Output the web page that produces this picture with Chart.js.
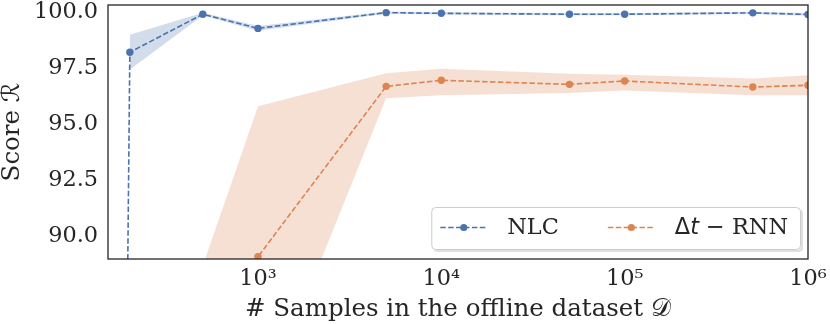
<!DOCTYPE html>
<html><head><meta charset="utf-8">
<script src="https://cdn.jsdelivr.net/npm/chart.js@4/dist/chart.umd.min.js"></script>
<style>html,body{margin:0;padding:0;background:#fff}#wrap{width:830px;height:324px;position:relative}</style>
</head><body><div id="wrap"><canvas id="c"></canvas></div>
<script>
// ---- data ----
const samples   = [100, 200, 500, 1000, 5000, 10000, 50000, 100000, 500000, 1000000];
const nlcMean   = [-150, 98.20, 99.89, 99.26, 99.96, 99.93, 99.89, 99.89, 99.95, 99.88];
const nlcLow    = [null, 97.43, 99.83, 99.15, 99.91, 99.88, 99.84, 99.84, 99.90, 99.82];
const nlcHigh   = [null, 98.98, 99.95, 99.37, 100.01, 99.98, 99.94, 99.94, 100.00, 99.94];
const rnnMean   = [null, null, 80.0, 89.10, 96.68, 96.95, 96.77, 96.92, 96.65, 96.73];
const rnnLow    = [null, null, 71.4, 82.00, 96.15, 96.28, 96.38, 96.50, 96.28, 96.28];
const rnnHigh   = [null, null, 88.7, 95.80, 97.26, 97.46, 97.24, 97.20, 97.03, 97.17];
const seriesNames = ['NLC', 'Δt − RNN'];
const xTicks = [1e3, 1e4, 1e5, 1e6];
const xTickLabels = ['10³', '10⁴', '10⁵', '10⁶'];
const yTicks = [90.0, 92.5, 95.0, 97.5, 100.0];
const xTitle = '# Samples in the offline dataset 𝒟';
const yTitle = 'Score ℛ';

const BLUE = '#4C72B0', ORANGE = '#DD8452';
const BLUE_BAND = 'rgba(76,114,176,0.25)', ORANGE_BAND = 'rgba(221,132,82,0.25)';
const SERIF = "'DejaVu Serif', 'DejaVu Sans', serif";
const FS = 22.4, FT = 24.5;

const pts = arr => samples.map((x, i) => ({x, y: arr[i]}));

const bandDs = (arr, color, fill) => ({
  data: pts(arr), borderWidth: 0, pointRadius: 0, borderColor: 'transparent',
  backgroundColor: color, fill: fill, spanGaps: false, isBand: true, tension: 0
});
const lineDs = (label, arr, color) => ({
  label, data: pts(arr), borderColor: color, backgroundColor: color,
  borderWidth: 1.6, borderDash: [5.5, 2.4], pointRadius: 3.7, pointHoverRadius: 3.7,
  pointBorderWidth: 0, pointBackgroundColor: color, fill: false, tension: 0, spanGaps: false
});

const spinePlugin = {
  id: 'spines',
  afterDatasetsDraw(chart) {
    const {ctx, chartArea: a} = chart;
    ctx.save();
    ctx.strokeStyle = '#262626';
    ctx.lineWidth = 1.3;
    ctx.strokeRect(a.left, a.top, a.right - a.left, a.bottom - a.top);
    ctx.restore();
  }
};

const legendPlugin = {
  id: 'boxLegend',
  afterDraw(chart) {
    const {ctx, chartArea: a} = chart;
    const lines = chart.data.datasets.filter(d => !d.isBand);
    ctx.save();
    const serifFont = `${FS}px ${SERIF}`;
    const sansFont = `${FS}px 'DejaVu Sans'`;
    const italFont = `oblique ${FS}px 'DejaVu Sans'`;
    const pieces = [
      [[seriesNames[0], serifFont]],
      [['Δ', sansFont], ['t', italFont], [' − ', sansFont], ['RNN', serifFont]]
    ];
    const widthOf = p => p.reduce((s, [t, f]) => { ctx.font = f; return s + ctx.measureText(t).width; }, 0);
    const padL = 9, sampleW = 47, gapT = 20, gapItem = 49, padR = 13, h = 43;
    const wItems = pieces.map(widthOf);
    const totalW = padL + sampleW + gapT + wItems[0] + gapItem + sampleW + gapT + wItems[1] + padR;
    const right = a.right - 7, bottom = a.bottom - 9;
    const x0 = right - totalW, y0 = bottom - h;
    ctx.fillStyle = 'rgba(0,0,0,0.12)';
    roundRect(ctx, x0 + 2, y0 + 2, totalW, h, 4); ctx.fill();
    ctx.fillStyle = '#ffffff';
    roundRect(ctx, x0, y0, totalW, h, 4); ctx.fill();
    ctx.strokeStyle = '#cccccc'; ctx.lineWidth = 1;
    roundRect(ctx, x0 + 0.5, y0 + 0.5, totalW - 1, h - 1, 4); ctx.stroke();
    const cy = y0 + h / 2 - 1;
    let x = x0 + padL;
    lines.forEach((ds, i) => {
      ctx.strokeStyle = ds.borderColor; ctx.lineWidth = 1.5;
      ctx.setLineDash(ds.borderDash);
      ctx.beginPath(); ctx.moveTo(x, cy); ctx.lineTo(x + sampleW, cy); ctx.stroke();
      ctx.setLineDash([]);
      ctx.fillStyle = ds.borderColor;
      ctx.beginPath(); ctx.arc(x + sampleW / 2, cy, 3.6, 0, Math.PI * 2); ctx.fill();
      x += sampleW + gapT;
      ctx.fillStyle = '#262626'; ctx.textBaseline = 'middle'; ctx.textAlign = 'left';
      pieces[i].forEach(([t, f]) => { ctx.font = f; ctx.fillText(t, x, cy + 1); x += ctx.measureText(t).width; });
      x += gapItem;
    });
    ctx.restore();
  }
};
function roundRect(ctx, x, y, w, h, r) {
  ctx.beginPath();
  ctx.moveTo(x + r, y); ctx.lineTo(x + w - r, y); ctx.quadraticCurveTo(x + w, y, x + w, y + r);
  ctx.lineTo(x + w, y + h - r); ctx.quadraticCurveTo(x + w, y + h, x + w - r, y + h);
  ctx.lineTo(x + r, y + h); ctx.quadraticCurveTo(x, y + h, x, y + h - r);
  ctx.lineTo(x, y + r); ctx.quadraticCurveTo(x, y, x + r, y); ctx.closePath();
}

new Chart(document.getElementById('c'), {
  type: 'line',
  data: {
    datasets: [
      bandDs(nlcHigh, BLUE_BAND, false),
      bandDs(nlcLow, BLUE_BAND, '-1'),
      bandDs(rnnHigh, ORANGE_BAND, false),
      bandDs(rnnLow, ORANGE_BAND, '-1'),
      lineDs(seriesNames[0], nlcMean, BLUE),
      lineDs(seriesNames[1], rnnMean, ORANGE)
    ]
  },
  options: {
    responsive: true, maintainAspectRatio: false, animation: false,
    devicePixelRatio: 1,
    layout: {padding: {top: 5, right: 22, left: 0, bottom: 0}},
    plugins: {legend: {display: false}, tooltip: {enabled: false}},
    events: [],
    scales: {
      x: {
        type: 'logarithmic', min: 152, max: 1e6,
        grid: {display: false, drawTicks: false},
        border: {display: false},
        afterBuildTicks: s => { s.ticks = xTicks.map(v => ({value: v})); },
        afterFit: s => { s.height = 65; s.paddingLeft = 0; s.paddingRight = 0; },
        ticks: {
          autoSkip: false, maxRotation: 0, padding: 7, color: '#262626',
          font: {family: SERIF, size: FS},
          callback: (v) => { const i = xTicks.indexOf(v); return i >= 0 ? xTickLabels[i] : ''; }
        },
        title: {display: true, text: xTitle, color: '#262626', font: {family: SERIF, size: FT, lineHeight: 1.0}, padding: {top: 0, bottom: 2}}
      },
      y: {
        type: 'linear', min: 89.0, max: 100.3,
        grid: {display: false, drawTicks: false},
        border: {display: false},
        afterBuildTicks: s => { s.ticks = yTicks.map(v => ({value: v})); },
        afterFit: s => { s.width = 108; s.paddingTop = 0; s.paddingBottom = 0; },
        ticks: {
          padding: 10, color: '#262626', font: {family: SERIF, size: FS},
          callback: v => Number(v).toFixed(1)
        },
        title: {display: true, text: yTitle, color: '#262626', font: {family: SERIF, size: FT, lineHeight: 1.0}, padding: {top: 0, bottom: 0}}
      }
    }
  },
  plugins: [spinePlugin, legendPlugin]
});
</script></body></html>
